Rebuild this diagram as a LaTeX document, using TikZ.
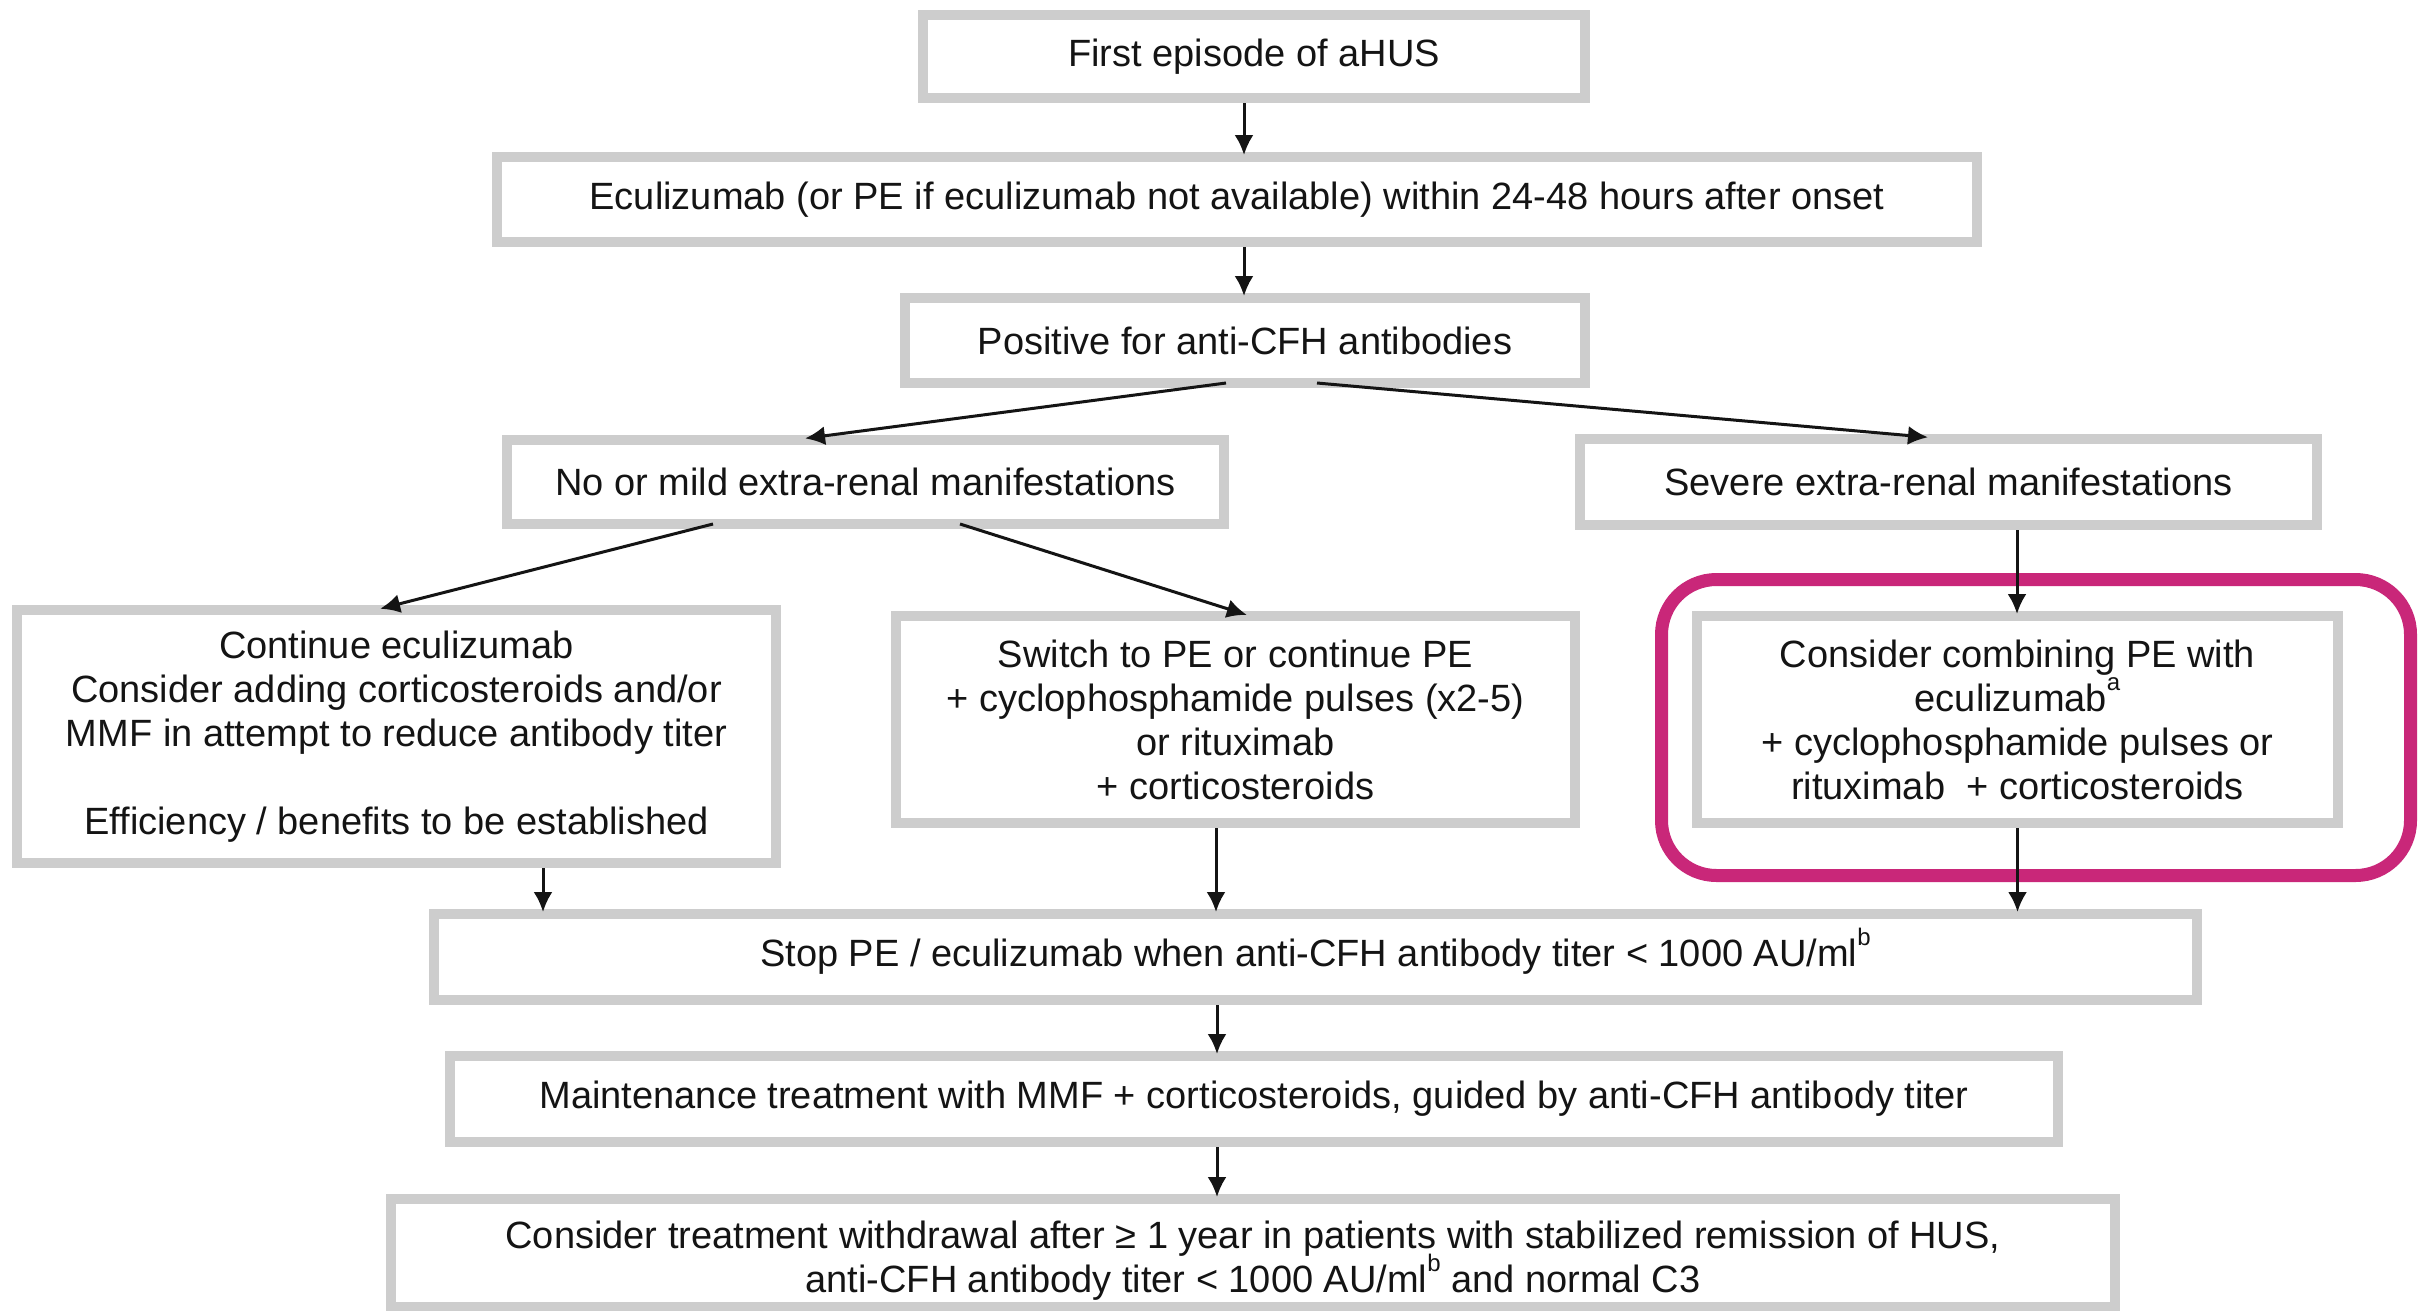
\documentclass[tikz,border=0pt]{standalone}
\usepackage{fontspec}
\setmainfont{Liberation Sans}
\usetikzlibrary{arrows.meta,calc}
\definecolor{boxgray}{RGB}{205,205,205}
\definecolor{hl}{RGB}{201,39,121}
\definecolor{txt}{RGB}{20,20,20}
\newcommand{\supr}[1]{\smash{\raisebox{0.55em}{\fontsize{24}{24}\selectfont #1}}}
\begin{document}
\begin{tikzpicture}[x=1pt,y=-1pt,
  box/.style={draw=boxgray, line width=10pt, fill=white, text=txt, inner sep=0pt, align=center, font=\fontsize{38}{44}\selectfont},
  arr/.style={draw=txt, line width=3pt, shorten >=-3pt, -{Latex[length=20pt,width=19pt]}},
  frame/.style={draw=hl, line width=13pt, rounded corners=55pt}]
\useasboundingbox (0,0) rectangle (2424,1310);
\fill[white] (0,0) rectangle (2424,1310);

\node[box, minimum width=662pt, minimum height=83pt] (b1) at (1254,56.5) {First episode of aHUS};
\node[box, minimum width=1480pt, minimum height=85pt] (b2) at (1237,199.5) {Eculizumab (or PE if eculizumab not available) within 24-48 hours after onset};
\node[box, minimum width=680pt, minimum height=85pt] (b3) at (1245,340.5) {Positive for anti-CFH antibodies};
\node[box, minimum width=717pt, minimum height=84pt] (b4) at (865.5,482) {No or mild extra-renal manifestations};
\node[box, minimum width=737pt, minimum height=86pt] (b5) at (1948.5,482) {Severe extra-renal manifestations};
\node[box, minimum width=759pt, minimum height=253pt] (b6) at (396.5,736.5) {Continue eculizumab\\Consider adding corticosteroids and/or\\MMF in attempt to reduce antibody titer\\[44pt]Efficiency / benefits to be established};
\node[box, minimum width=679pt, minimum height=207pt] (b7) at (1235.5,719.5) {Switch to PE or continue PE\\+ cyclophosphamide pulses (x2-5)\\or rituximab\\+ corticosteroids};
\node[box, minimum width=641pt, minimum height=207pt] (b8) at (2017.5,719.5) {Consider combining PE with\\eculizumab\supr{a}\\+ cyclophosphamide pulses or\\rituximab \ + corticosteroids};
\node[box, minimum width=1763pt, minimum height=86pt] (b9) at (1315.5,957) {Stop PE / eculizumab when anti-CFH antibody titer < 1000 AU/ml\supr{b}};
\node[box, minimum width=1608pt, minimum height=86pt] (b10) at (1254,1099) {Maintenance treatment with MMF + corticosteroids, guided by anti-CFH antibody titer};
\node[box, minimum width=1724pt, minimum height=108pt] (b11) at (1253,1253) {\rule{0pt}{42pt}Consider treatment withdrawal after ≥ 1 year in patients with stabilized remission of HUS,\\anti-CFH antibody titer < 1000 AU/ml\supr{b} and normal C3};

\draw[frame] (1661.5,579.5) rectangle (2410.5,875.5);

\draw[arr] ([xshift=-10pt]b1.south) -- ([xshift=-10pt]b1.south |- b2.north);
\draw[arr] ([xshift=7pt]b2.south) -- ([xshift=7pt]b2.south |- b3.north);
\draw[arr] ([xshift=-19pt,yshift=5pt]b3.south) -- ([xshift=-57.5pt,yshift=-3pt]b4.north);
\draw[arr] ([xshift=72pt,yshift=5pt]b3.south) -- ([xshift=-23.5pt,yshift=-3pt]b5.north);
\draw[arr] ([xshift=-152.5pt,yshift=5pt]b4.south) -- ([xshift=-13.5pt,yshift=-3pt]b6.north);
\draw[arr] ([xshift=94.5pt,yshift=5pt]b4.south) -- ([xshift=8.5pt,yshift=-3pt]b7.north);
\draw[arr] ([xshift=68.5pt]b5.south) -- ([xshift=68.5pt]b5.south |- b8.north);
\draw[arr] ([xshift=146.5pt]b6.south) -- ([xshift=146.5pt]b6.south |- b9.north);
\draw[arr] ([xshift=-19.5pt]b7.south) -- ([xshift=-19.5pt]b7.south |- b9.north);
\draw[arr] (b8.south) -- (b8.south |- b9.north);
\draw[arr] ([xshift=-98.5pt]b9.south) -- ([xshift=-98.5pt]b9.south |- b10.north);
\draw[arr] ([xshift=-37pt]b10.south) -- ([xshift=-37pt]b10.south |- b11.north);
\end{tikzpicture}
\end{document}
